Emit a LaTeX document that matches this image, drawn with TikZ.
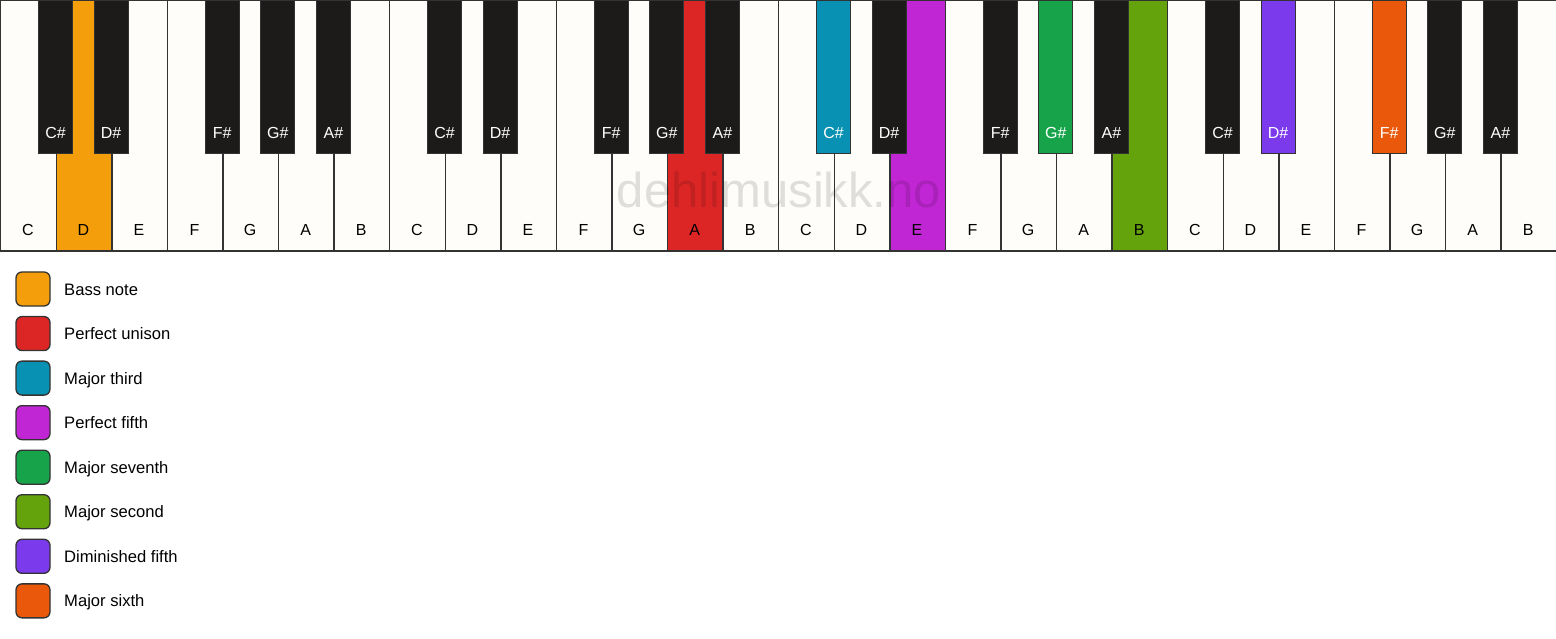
\documentclass[tikz,border=0pt]{standalone}
\usepackage{fontspec}
\setmainfont{Liberation Sans}
\definecolor{wkey}{HTML}{FFFDF9}
\definecolor{bkey}{HTML}{1C1B1A}
\definecolor{edge}{HTML}{333333}
\definecolor{cBass}{HTML}{F59E0B}
\definecolor{cUnison}{HTML}{DC2626}
\definecolor{cThird}{HTML}{0891B2}
\definecolor{cFifth}{HTML}{C026D3}
\definecolor{cSeventh}{HTML}{16A34A}
\definecolor{cSecond}{HTML}{65A30D}
\definecolor{cDim}{HTML}{7C3AED}
\definecolor{cSixth}{HTML}{EA580C}
\tikzset{
  whitekey/.style={draw=edge, line width=1.4pt, fill=wkey, minimum width=55.5714pt, minimum height=250pt, inner sep=0pt, anchor=north west},
  blackkey/.style={draw=edge, line width=1.2pt, fill=bkey, minimum width=34pt, minimum height=153pt, inner sep=0pt, anchor=north},
  wlabel/.style={font=\fontsize{16}{18}\selectfont, text=black, anchor=base},
  blabel/.style={font=\fontsize{16}{18}\selectfont, text=white, anchor=base},
  legbox/.style={draw=edge, line width=1.3pt, rounded corners=6pt, minimum width=34pt, minimum height=34pt, inner sep=0pt},
  legtext/.style={font=\fontsize{16.6}{18}\selectfont, text=black, anchor=base west, inner sep=0pt},
  watermark/.style={font=\fontsize{49}{50}\selectfont, text=black, text opacity=0.12, anchor=base}
}
\begin{document}
\begin{tikzpicture}[x=1pt,y=-1pt]
\useasboundingbox[fill=white] (0,0) rectangle (1556,639);
\def\kw{55.5714}
% white keys
\foreach \i/\n in {0/C,1/D,2/E,3/F,4/G,5/A,6/B,7/C,8/D,9/E,10/F,11/G,12/A,13/B,14/C,15/D,16/E,17/F,18/G,19/A,20/B,21/C,22/D,23/E,24/F,25/G,26/A,27/B}{
  \ifnum\i=1 \def\kc{cBass}\else
  \ifnum\i=12 \def\kc{cUnison}\else
  \ifnum\i=16 \def\kc{cFifth}\else
  \ifnum\i=20 \def\kc{cSecond}\else
  \def\kc{wkey}\fi\fi\fi\fi
  \node[whitekey, fill=\kc] (w\i) at ({\i*\kw},0) {};
  \node[wlabel] (wl\i) at ({(\i+0.5)*\kw},236) {\n};
}
% black keys (at boundaries)
\foreach \b/\n in {1/C\#,2/D\#,4/F\#,5/G\#,6/A\#,8/C\#,9/D\#,11/F\#,12/G\#,13/A\#,15/C\#,16/D\#,18/F\#,19/G\#,20/A\#,22/C\#,23/D\#,25/F\#,26/G\#,27/A\#}{
  \ifnum\b=15 \def\kc{cThird}\else
  \ifnum\b=19 \def\kc{cSeventh}\else
  \ifnum\b=23 \def\kc{cDim}\else
  \ifnum\b=25 \def\kc{cSixth}\else
  \def\kc{bkey}\fi\fi\fi\fi
  \node[blackkey, fill=\kc] (b\b) at ({\b*\kw},0) {};
  \node[blabel] (bl\b) at ({\b*\kw},139) {\n};
}
% bottom edge
\draw[edge, line width=2pt] (w0.south west) -- (w27.south east);
% watermark
\node[watermark] (wm) at (779,208) {dehlimusikk.no};
% legend
\foreach \k/\col/\txt in {0/cBass/Bass note,1/cUnison/Perfect unison,2/cThird/Major third,3/cFifth/Perfect fifth,4/cSeventh/Major seventh,5/cSecond/Major second,6/cDim/Diminished fifth,7/cSixth/Major sixth}{
  \node[legbox, fill=\col] (lb\k) at (33,{289+\k*44.55}) {};
  \node[legtext] (lt\k) at (64,{295+\k*44.55}) {\txt};
}
\end{tikzpicture}
\end{document}
